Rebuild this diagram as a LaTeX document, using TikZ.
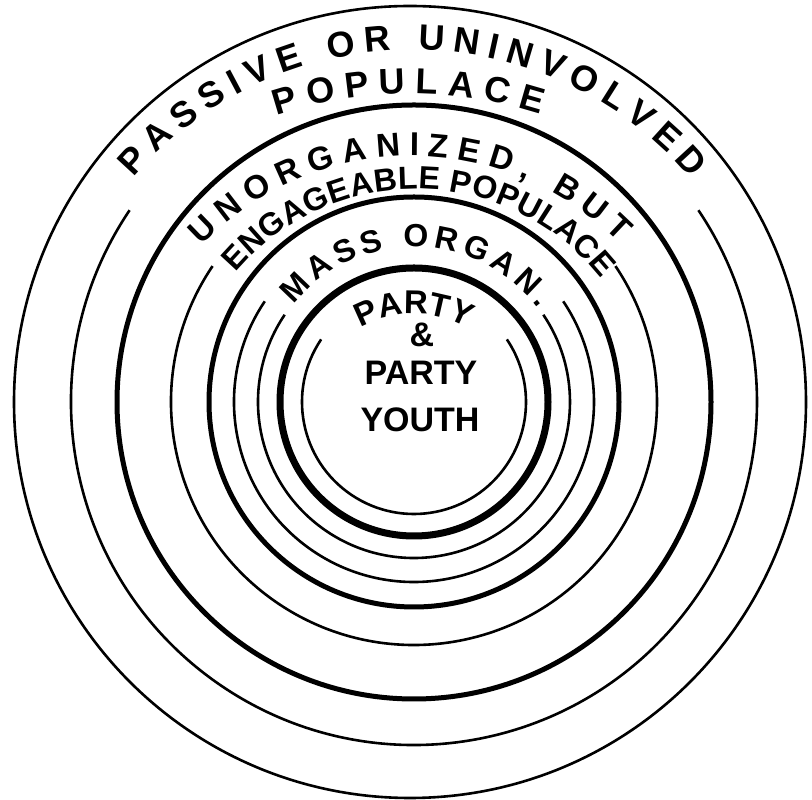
\documentclass[tikz,border=0pt]{standalone}
\usepackage{fontspec}
\setmainfont{Liberation Sans}
\usetikzlibrary{decorations.text}
\newcommand{\outerletters}{\bfseries\fontsize{36}{40}\selectfont}
\newcommand{\midletters}{\bfseries\fontsize{33}{36}\selectfont}
\newcommand{\narrowletters}{\bfseries\fontsize{32}{36}\selectfont}
\newcommand{\innerletters}{\bfseries\fontsize{32}{35}\selectfont}
\newcommand{\coreletters}{\bfseries\fontsize{33}{36}\selectfont}

\begin{document}
\begin{tikzpicture}[x=1pt,y=1pt,
  thinring/.style={line width=2.6pt,draw=black},
  thickring/.style={line width=5pt,draw=black},
  heavyring/.style={line width=7pt,draw=black},
  fittext/.style={decorate,decoration={text along path,text align={fit to path},text={#1}}},
  midtext/.style={decorate,decoration={text along path,text align=center,text={#1}}},
  core/.style={font=\bfseries\fontsize{34}{36}\selectfont,inner sep=0pt}]
  \useasboundingbox (0,0) rectangle (812,800);
  \coordinate (c) at (414,398);
  % closed rings
  \draw[thinring] (410,398) circle[radius=396];
  \draw[thickring] (c) circle[radius=297];
  \draw[thickring] (c) circle[radius=205];
  \draw[heavyring] (c) circle[radius=134];
  % open rings, gap at the top for the words
  \foreach \r in {343,243,180,156,112}
    \draw[thinring] (c) ++(146:\r) arc[start angle=146,end angle=394,radius=\r];
  % words along the rings
  \path[fittext={|\outerletters|PASSIVE OR UNINVOLVED}] (412,382) ++(139.2:368) arc[start angle=139.2,end angle=40.6,radius=368];
  \path[fittext={|\outerletters|POPULACE}] (410,280) ++(108.2:426) arc[start angle=108.2,end angle=72.2,radius=426];
  \path[fittext={|\midletters|UNORGANIZED, BUT}] (412,353) ++(136.3:291) arc[start angle=136.3,end angle=44.6,radius=291];
  \path[fittext={|\narrowletters|ENGAGEABLE POPULACE}] (416,375) ++(139.8:236) arc[start angle=139.8,end angle=38.3,radius=236];
  \path[fittext={|\innerletters|MASS ORGAN.}] (c) ++(141:155) arc[start angle=141,end angle=37,radius=155];
  \path[midtext={|\coreletters|PARTY}] (414,380) ++(130:106) arc[start angle=130,end angle=50,radius=106];
  \node[core] (amp) at (422,465) {\&};
  \node[core] (party) at (421,427) {PARTY};
  \node[core] (youth) at (420,380) {YOUTH};
\end{tikzpicture}
\end{document}
